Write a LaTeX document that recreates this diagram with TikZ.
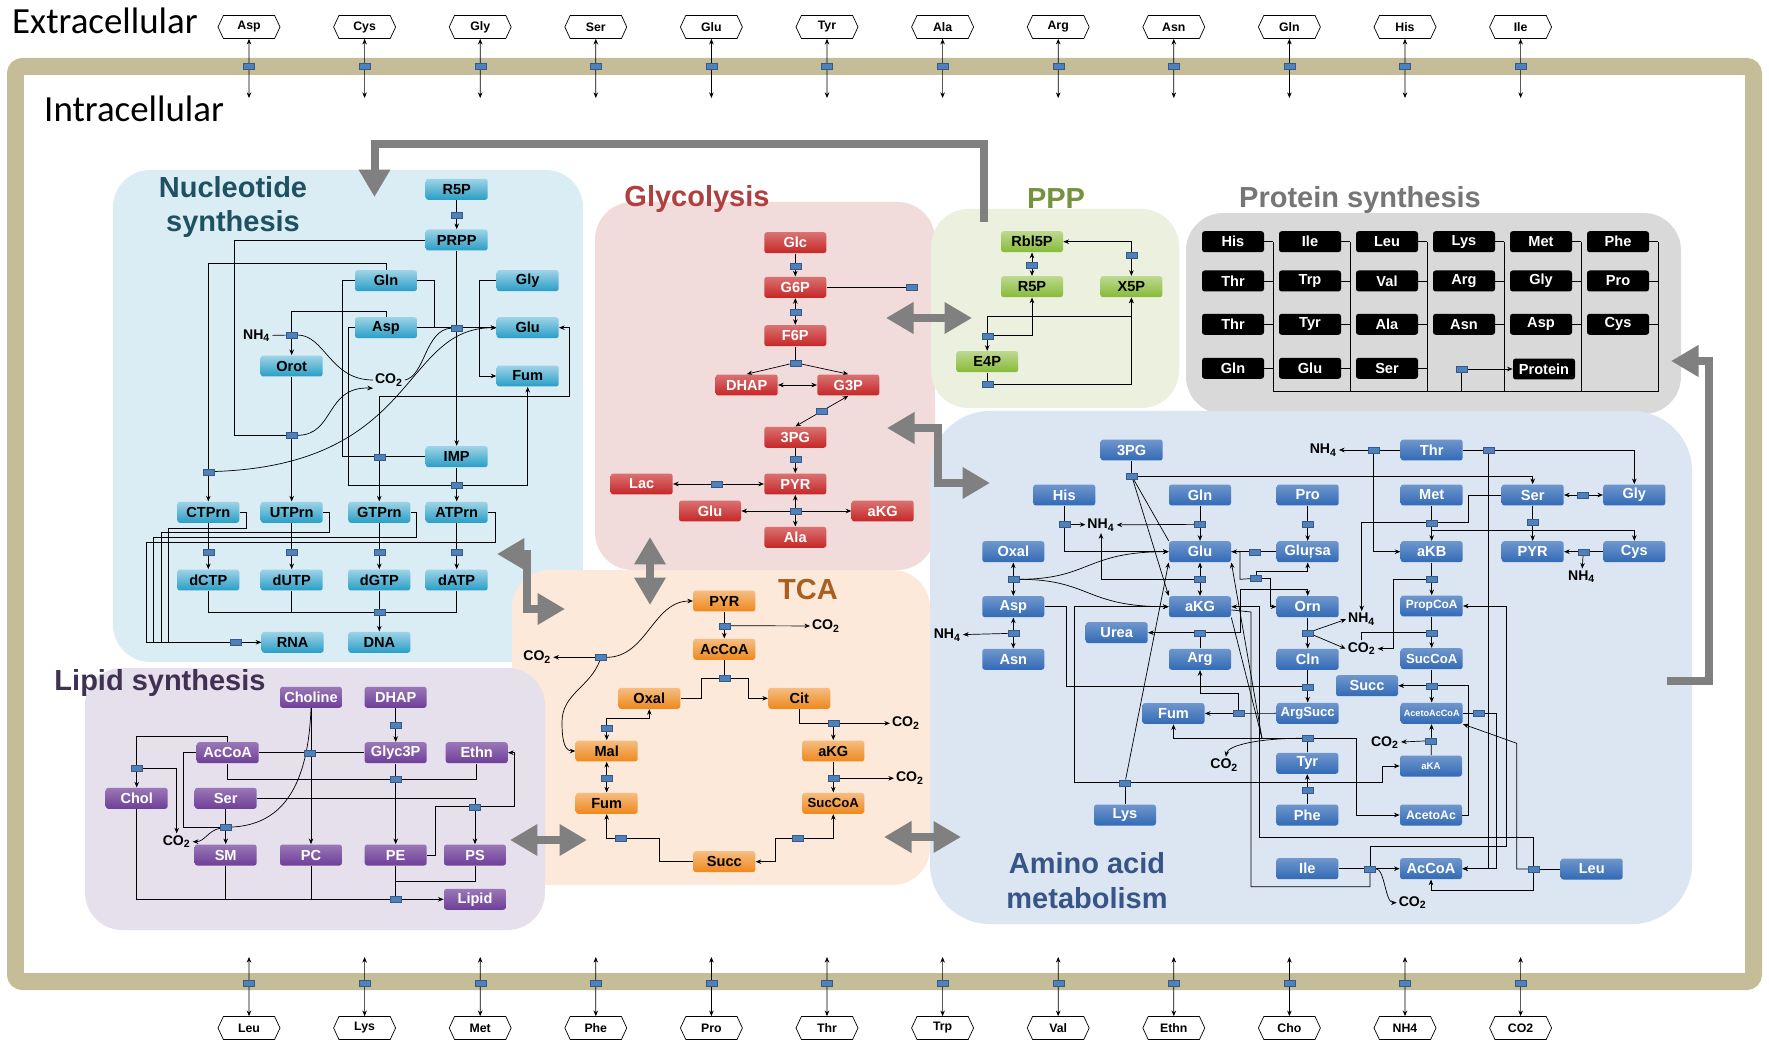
\documentclass[tikz,border=0pt]{standalone}
\usepackage{fontspec}
\setmainfont{Liberation Sans}
\newfontfamily\cellfont{Carlito}
\usepackage{tikz}
\usetikzlibrary{shapes.geometric, shapes.symbols, arrows.meta, positioning, calc}
\definecolor{framecol}{RGB}{197,189,151}
\definecolor{bigcol}{RGB}{128,128,128}
\definecolor{rxncol}{RGB}{79,129,189}
\definecolor{nucbg}{RGB}{218,236,244}
\definecolor{glybg}{RGB}{242,220,219}
\definecolor{pppbg}{RGB}{235,241,222}
\definecolor{protbg}{RGB}{217,217,217}
\definecolor{tcabg}{RGB}{253,233,217}
\definecolor{lipbg}{RGB}{229,224,236}
\definecolor{amibg}{RGB}{220,230,242}
\definecolor{nucbox}{RGB}{40,158,198}
\definecolor{glybox}{RGB}{198,38,38}
\definecolor{pppbox}{RGB}{135,186,55}
\definecolor{tcabox}{RGB}{238,136,28}
\definecolor{lipbox}{RGB}{110,62,152}
\definecolor{amibox}{RGB}{50,106,182}
\definecolor{nuctitle}{RGB}{31,81,97}
\definecolor{glytitle}{RGB}{176,64,64}
\definecolor{ppptitle}{RGB}{118,146,60}
\definecolor{prottitle}{RGB}{118,118,118}
\definecolor{tcatitle}{RGB}{170,95,30}
\definecolor{liptitle}{RGB}{64,49,82}
\definecolor{amititle}{RGB}{55,86,135}
\tikzstyle{box} = [rectangle, rounded corners=1.5pt, minimum width=1.24cm, minimum height=0.42cm, inner sep=0pt, font=\bfseries\fontsize{8.3}{9}\selectfont]
\tikzstyle{nuc} = [box, top color=nucbox!45!white, bottom color=nucbox, text=black]
\tikzstyle{gly} = [box, top color=glybox!65!white, bottom color=glybox, text=white]
\tikzstyle{pppb} = [box, top color=pppbox!55!white, bottom color=pppbox, text=black]
\tikzstyle{prot} = [box, fill=black, text=white]
\tikzstyle{tca} = [box, top color=tcabox!55!white, bottom color=tcabox, text=black]
\tikzstyle{lip} = [box, top color=lipbox!70!white, bottom color=lipbox, text=white]
\tikzstyle{ami} = [box, top color=amibox!70!white, bottom color=amibox, text=white]
\tikzstyle{rxn} = [rectangle, minimum width=0.22cm, minimum height=0.12cm, inner sep=0pt, fill=rxncol, draw=rxncol!70!black, line width=0.2pt]
\tikzstyle{chem} = [inner sep=1pt, font=\bfseries\fontsize{8}{9}\selectfont]
\tikzstyle{transp} = [signal, signal to=west and east, signal pointer angle=130, draw=black, line width=0.4pt, fill=white, minimum width=1.24cm, minimum height=0.46cm, inner sep=0pt, font=\bfseries\fontsize{7}{8}\selectfont]
\tikzstyle{region} = [rounded corners=0.75cm]
\tikzstyle{regtitle} = [font=\bfseries\fontsize{16.5}{19.8}\selectfont, align=center]
\tikzstyle{bigarrow} = [line width=0.16cm, draw=bigcol, line join=miter, -{Triangle[length=0.55cm,width=0.6cm]}]
\tikzstyle{bigboth} = [line width=0.16cm, draw=bigcol, line join=miter, {Triangle[length=0.55cm,width=0.6cm]}-{Triangle[length=0.55cm,width=0.6cm]}]
\tikzstyle{arrow} = [->]
\pgfdeclarelayer{bg}
\pgfdeclarelayer{edges}
\pgfsetlayers{bg,edges,main}

\begin{document}
\begin{tikzpicture}[x=0.02cm, y=-0.02cm, >={Stealth[length=3.2pt,width=2.6pt]}, line width=0.55pt]
    \useasboundingbox (0,0) rectangle (1769,1040);

    % Cell and compartments
    \begin{pgfonlayer}{bg}
        \fill[white] (0,0) rectangle (1769,1040);
        \draw[framecol, line width=0.34cm, rounded corners=4pt] (15.5,66.5) rectangle (1753.5,981.5);
        \fill[nucbg, region] (113,170) rectangle (583,662);
        \fill[tcabg, region] (512,570) rectangle (930,885);
        \fill[lipbg, region] (85,668) rectangle (545,930);
        \fill[glybg, region] (595,202) rectangle (935,570);
        \fill[pppbg, region] (931,209) rectangle (1179,408);
        \fill[protbg, region] (1186,213) rectangle (1681,414);
        \fill[amibg, rounded corners=1.2cm] (930,411) rectangle (1692,924);
    \end{pgfonlayer}

    \node[anchor=west, font=\cellfont\fontsize{21}{24}\selectfont] (extra) at (6,21) {Extracellular};
    \node[anchor=west, font=\cellfont\fontsize{21}{24}\selectfont] (intra) at (38,109) {Intracellular};

    % Transport
    \foreach \lab [count=\i from 0] in {Asp,Cys,Gly,Ser,Glu,Tyr,Ala,Arg,Asn,Gln,His,Ile} {
        \node[transp] (ex\i) at ({249+115.6*\i},27) {\lab};
        \node[rxn] (txs\i) at ({249+115.6*\i},66) {};
        \coordinate (in\i) at ({249+115.6*\i},98);
        \begin{pgfonlayer}{edges}
            \draw[<->] (ex\i) -- (in\i);
        \end{pgfonlayer}
    }
    \foreach \lab [count=\i from 0] in {Leu,Lys,Met,Phe,Pro,Thr,Trp,Val,Ethn,Cho,NH4,CO2} {
        \node[transp] (out\i) at ({249+115.6*\i},1028) {\lab};
        \node[rxn] (tos\i) at ({249+115.6*\i},983) {};
        \coordinate (inb\i) at ({249+115.6*\i},957);
        \begin{pgfonlayer}{edges}
            \draw[<->] (inb\i) -- (out\i);
        \end{pgfonlayer}
    }

    % Titles
    \node[regtitle, text=nuctitle] (tnuc) at (233,207) {Nucleotide\\synthesis};
    \node[regtitle, text=glytitle] (tgly) at (697,199) {Glycolysis};
    \node[regtitle, text=ppptitle] (tppp) at (1056,199) {PPP};
    \node[regtitle, text=prottitle] (tprot) at (1360,200) {Protein synthesis};
    \node[regtitle, text=tcatitle] (ttca) at (808,590) {TCA};
    \node[regtitle, text=liptitle] (tlip) at (160,683) {Lipid synthesis};
    \node[regtitle, text=amititle] (tami) at (1087,881) {Amino acid\\metabolism};

    % Nucleotide synthesis
    \node[nuc] (nr5p) at (456.7,189.3) {R5P};
    \node[nuc] (nprpp) at (456.7,240) {PRPP};
    \node[nuc] (ngln) at (386,280.7) {Gln};
    \node[nuc] (ngly) at (527.7,280.7) {Gly};
    \node[nuc] (nasp) at (386,327.7) {Asp};
    \node[nuc] (nglu) at (527.7,327.7) {Glu};
    \node[nuc] (norot) at (291.7,366) {Orot};
    \node[nuc] (nfum) at (527.7,376) {Fum};
    \node[nuc] (nimp) at (456.7,456.7) {IMP};
    \node[nuc] (nctp) at (208.3,512.3) {CTPrn};
    \node[nuc] (nutp) at (291.7,512.3) {UTPrn};
    \node[nuc] (ngtp) at (379.3,512.3) {GTPrn};
    \node[nuc] (natp) at (456.7,512.3) {ATPrn};
    \node[nuc] (ndctp) at (208.3,580) {dCTP};
    \node[nuc] (ndutp) at (291.7,580) {dUTP};
    \node[nuc] (ndgtp) at (379.3,580) {dGTP};
    \node[nuc] (ndatp) at (456.7,580) {dATP};
    \node[nuc] (nrna) at (292.7,642.3) {RNA};
    \node[nuc] (ndna) at (379.3,642.3) {DNA};
    \node[chem] (nnh4) at (256.7,335.7) {NH\textsubscript{4}};
    \node[chem] (nco2) at (389,380) {CO\textsubscript{2}};
    \node[rxn] (sr5p) at (456.7,215) {};
    \node[rxn] (spur) at (456.7,327.7) {};
    \node[rxn] (snh4) at (291.7,335) {};
    \node[rxn] (sump) at (291.7,435.3) {};
    \node[rxn] (sgmp) at (379.3,456.7) {};
    \node[rxn] (sctp) at (208.3,471.7) {};
    \node[rxn] (samp) at (456.7,485) {};
    \node[rxn] (sdc) at (208.3,552.3) {};
    \node[rxn] (sdu) at (291.7,552.3) {};
    \node[rxn] (sdg) at (379.3,552.3) {};
    \node[rxn] (sda) at (456.7,552.3) {};
    \node[rxn] (sdna) at (379.3,612.3) {};
    \node[rxn] (srna) at (236,642.3) {};

    % Glycolysis
    \node[gly] (gglc) at (795.3,242.7) {Glc};
    \node[gly] (gg6p) at (795.3,287.3) {G6P};
    \node[gly] (gf6p) at (795.3,335.7) {F6P};
    \node[gly] (gdhap) at (746.7,385) {DHAP};
    \node[gly] (gg3p) at (848.3,385) {G3P};
    \node[gly] (g3pg) at (795.3,437.3) {3PG};
    \node[gly] (glac) at (641.7,484) {Lac};
    \node[gly] (gpyr) at (795.3,484) {PYR};
    \node[gly] (gglu) at (710,511) {Glu};
    \node[gly] (gakg) at (882.7,511) {aKG};
    \node[gly] (gala) at (795.3,537.3) {Ala};
    \node[rxn] (sglc) at (795.3,266) {};
    \node[rxn] (sg6p) at (795.3,311.7) {};
    \node[rxn] (sf6p) at (795.3,362.7) {};
    \node[rxn] (sg3p) at ($(gg3p.south)!0.5!(g3pg.north)$) {};
    \node[rxn] (s3pg2) at (795.3,459.3) {};
    \node[rxn] (slac) at (716.7,484) {};
    \node[rxn] (spyr) at (795.3,511) {};
    \node[rxn] (sppp) at (911.7,287.3) {};

    % PPP
    \node[pppb] (prbl) at (1032,241.7) {Rbl5P};
    \node[pppb] (pr5p) at (1032,286.7) {R5P};
    \node[pppb] (px5p) at (1131.4,286.7) {X5P};
    \node[pppb] (pe4p) at (987.2,361.7) {E4P};
    \node[rxn] (srbl) at (1032,265) {};
    \node[rxn] (sx5p) at (1131.4,255) {};
    \node[rxn] (se4p) at (987.2,335.7) {};
    \node[rxn] (se4p2) at (987.2,384) {};

    % Protein synthesis
    \foreach \lab [count=\k from 0] in {His,Ile,Leu,Lys,Met,Phe,Thr,Trp,Val,Arg,Gly,Pro,Thr,Tyr,Ala,Asn,Asp,Cys,Gln,Glu,Ser} {
        \pgfmathtruncatemacro{\col}{mod(\k,6)}
        \pgfmathtruncatemacro{\row}{int(\k/6)}
        \pgfmathsetmacro{\px}{1233+77*\col}
        \pgfmathsetmacro{\py}{{241.7,281,324.3,368.3}[\row]}
        \node[prot] (pp\k) at (\px,\py) {\lab};
        \coordinate (pc\k) at ({\px+40},\py);
        \begin{pgfonlayer}{edges}
            \draw (pp\k) -- (pc\k);
        \end{pgfonlayer}
    }
    \node[prot] (pprot) at (1544,369) {Protein};
    \node[rxn] (sprot) at (1461.3,369) {};

    % TCA
    \node[tca] (tpyr) at (724.3,601) {PYR};
    \node[tca] (taccoa) at (724.3,649.3) {AcCoA};
    \node[tca] (toxal) at (649.3,698.3) {Oxal};
    \node[tca] (tcit) at (799.3,698.3) {Cit};
    \node[tca] (tmal) at (606.7,751) {Mal};
    \node[tca] (takg) at (833.3,751) {aKG};
    \node[tca] (tfum) at (606.7,803.3) {Fum};
    \node[tca, font=\bfseries\fontsize{7.5}{9}\selectfont] (tsuccoa) at (833.3,803.3) {SucCoA};
    \node[tca] (tsucc) at (724.3,861.7) {Succ};
    \node[chem] (tco2a) at (826,626) {CO\textsubscript{2}};
    \node[chem] (tco2b) at (537.3,657.3) {CO\textsubscript{2}};
    \node[chem] (tco2c) at (906,723.3) {CO\textsubscript{2}};
    \node[chem] (tco2d) at (910,778.3) {CO\textsubscript{2}};
    \node[rxn] (spdh) at (724.3,625.7) {};
    \node[rxn] (sme) at (601,657.3) {};
    \node[rxn] (scs) at (724.3,678.3) {};
    \node[rxn] (sidh) at (833.3,723.3) {};
    \node[rxn] (smdh) at (606.7,727.7) {};
    \node[rxn] (sfum) at (606.7,778.3) {};
    \node[rxn] (sakgdh) at (833.3,778.3) {};
    \node[rxn] (ssdh) at (620.7,838.3) {};
    \node[rxn] (sscs) at (797.7,838.3) {};

    % Lipid synthesis
    \node[lip] (lcholine) at (311,697.3) {Choline};
    \node[lip] (ldhap) at (395.7,697.3) {DHAP};
    \node[lip] (laccoa) at (227.7,752.7) {AcCoA};
    \node[lip] (lglyc) at (395.7,752.7) {Glyc3P};
    \node[lip] (lethn) at (476.7,752.7) {Ethn};
    \node[lip] (lchol) at (136.7,798.3) {Chol};
    \node[lip] (lser) at (225.7,798.3) {Ser};
    \node[lip] (lsm) at (225.7,855) {SM};
    \node[lip] (lpc) at (311,855) {PC};
    \node[lip] (lpe) at (395.7,855) {PE};
    \node[lip] (lps) at (475,855) {PS};
    \node[lip] (llipid) at (475,899.3) {Lipid};
    \node[chem] (lco2) at (176.7,841.7) {CO\textsubscript{2}};
    \node[rxn] (sdhap) at (395.7,725) {};
    \node[rxn] (spc) at (310,752.7) {};
    \node[rxn] (spe) at (395.7,779.3) {};
    \node[rxn] (schol) at (136.7,768.3) {};
    \node[rxn] (ssm) at (225.7,827.3) {};
    \node[rxn] (sps) at (475,806.7) {};
    \node[rxn] (slip) at (395.7,899.3) {};
    \coordinate (psj) at (395.7,881.7);

    % Amino acid metabolism
    \node[ami] (a3pg) at (1131.7,450) {3PG};
    \node[ami] (ahis) at (1064.3,495) {His};
    \node[ami] (agln) at (1200,495) {Gln};
    \node[ami] (apro) at (1307.7,495) {Pro};
    \node[ami] (athr) at (1431.7,450) {Thr};
    \node[ami] (amet) at (1431.7,495) {Met};
    \node[ami] (aser) at (1532.7,495) {Ser};
    \node[ami] (agly) at (1634.3,495) {Gly};
    \node[ami] (aoxal) at (1013.3,551.7) {Oxal};
    \node[ami] (aglu) at (1200,551.7) {Glu};
    \node[ami] (aglursa) at (1307.7,551.7) {Gluŗsa};
    \node[ami] (akb) at (1431.7,551.7) {aKB};
    \node[ami] (apyr) at (1532.7,551.7) {PYR};
    \node[ami] (acys) at (1634.3,551.7) {Cys};
    \node[ami] (aasp) at (1013.3,606.7) {Asp};
    \node[ami] (aakg) at (1200,606.7) {aKG};
    \node[ami] (aorn) at (1307.7,606.7) {Orn};
    \node[ami, font=\bfseries\fontsize{6.8}{8}\selectfont] (apropcoa) at (1431.7,606) {PropCoA};
    \node[ami] (aurea) at (1116.7,632.7) {Urea};
    \node[ami] (aasn) at (1013.3,659.3) {Asn};
    \node[ami] (aarg) at (1200,659.3) {Arg};
    \node[ami] (acln) at (1307.7,659.3) {Cln};
    \node[ami, font=\bfseries\fontsize{7.5}{9}\selectfont] (asuccoa) at (1431.7,658.7) {SucCoA};
    \node[ami] (asucc) at (1367,685.7) {Succ};
    \node[ami] (afum) at (1173.5,713.5) {Fum};
    \node[ami, font=\bfseries\fontsize{7.5}{9}\selectfont] (aargsucc) at (1307.7,713.3) {ArgSucc};
    \node[ami, font=\bfseries\fontsize{5.2}{6}\selectfont] (aacaccoa) at (1431.7,713.3) {AcetoAcCoA};
    \node[ami] (atyr) at (1307.3,763.3) {Tyr};
    \node[ami, font=\bfseries\fontsize{5.5}{6}\selectfont] (aaka) at (1431,766) {aKA};
    \node[ami] (alys) at (1125,815) {Lys};
    \node[ami] (aphe) at (1307.3,815) {Phe};
    \node[ami, font=\bfseries\fontsize{7}{8}\selectfont] (aacac) at (1431,815) {AcetoAc};
    \node[ami] (aile) at (1307.3,868.7) {Ile};
    \node[ami] (aaccoa) at (1431,868.7) {AcCoA};
    \node[ami] (aleu) at (1591.7,869) {Leu};
    \node[chem] (nh4a) at (1101,525) {NH\textsubscript{4}};
    \node[chem] (nh4b) at (1323.3,450) {NH\textsubscript{4}};
    \node[chem] (nh4c) at (947.3,635) {NH\textsubscript{4}};
    \node[chem] (nh4d) at (1361.7,619.3) {NH\textsubscript{4}};
    \node[chem] (nh4e) at (1581.7,576.7) {NH\textsubscript{4}};
    \node[chem] (co2a) at (1361.7,648.7) {CO\textsubscript{2}};
    \node[chem] (co2b) at (1385,742.7) {CO\textsubscript{2}};
    \node[chem] (co2c) at (1224.3,765) {CO\textsubscript{2}};
    \node[chem] (co2d) at (1412.7,902.7) {CO\textsubscript{2}};
    \node[rxn] (s3pg) at (1131.7,476) {};
    \node[rxn] (shis) at (1064.3,524.3) {};
    \node[rxn] (sgln) at (1200,524.3) {};
    \node[rxn] (spro) at (1307.7,524.3) {};
    \node[rxn] (sglursa) at (1255,551.7) {};
    \node[rxn] (sglu) at (1200,579.3) {};
    \node[rxn] (soxal) at (1013.3,579.3) {};
    \node[rxn] (sasn) at (1013.3,633.3) {};
    \node[rxn] (sorn5) at (1256,578.3) {};
    \node[rxn] (surea) at (1200,632.7) {};
    \node[rxn] (sorn) at (1307.7,632.7) {};
    \node[rxn] (scln) at (1307.7,686.7) {};
    \node[rxn] (sargsucc) at (1238.3,713.3) {};
    \node[rxn] (sthr1) at (1373.3,450) {};
    \node[rxn] (sthr2) at (1488.3,450) {};
    \node[rxn] (sser) at (1582.7,495) {};
    \node[rxn] (sserpyr) at (1532.7,521.7) {};
    \node[rxn] (smet) at (1431.7,522.7) {};
    \node[rxn] (scys) at (1583.3,551.7) {};
    \node[rxn] (sakb) at (1431.7,579.3) {};
    \node[rxn] (spropcoa) at (1431.7,632.7) {};
    \node[rxn] (ssuccoa) at (1431.7,685.7) {};
    \node[rxn] (sacac) at (1478.3,713.3) {};
    \node[rxn] (saka) at (1431,740.7) {};
    \node[rxn] (styr) at (1307.3,738.3) {};
    \node[rxn] (sphe) at (1307.3,790) {};
    \node[rxn] (slys) at (1125,782.7) {};
    \node[rxn] (sile) at (1370,868.7) {};
    \node[rxn] (sleu) at (1533.5,869) {};
    \coordinate (tyrj) at (1262,738.3);

    % Big arrows between compartments
    \coordinate (pppout) at (984,222);
    \coordinate (nucin) at (374.5,197);
    \coordinate (gpA) at (886,318);
    \coordinate (gpB) at (972,318);
    \coordinate (gaA) at (887,428);
    \coordinate (gaB) at (990,483);
    \coordinate (gtA) at (650,537);
    \coordinate (gtB) at (650,605);
    \coordinate (ntA) at (497,554);
    \coordinate (ntB) at (565,609);
    \coordinate (ltA) at (510,840);
    \coordinate (ltB) at (587,840);
    \coordinate (taA) at (884,837);
    \coordinate (taB) at (961,837);
    \coordinate (apA) at (1667,681);
    \coordinate (apB) at (1671,361);

    \begin{pgfonlayer}{edges}
        \draw[bigarrow] (pppout) |- (374.5,144) -- (nucin);
        \draw[bigboth] (gpA) -- (gpB);
        \draw[bigboth] (gaA) -| (938,483) -- (gaB);
        \draw[bigboth] (gtA) -- (gtB);
        \draw[bigboth] (ntA) -| (527,609) -- (ntB);
        \draw[bigboth] (ltA) -- (ltB);
        \draw[bigboth] (taA) -- (taB);
        \draw[bigarrow] (apA) -| (1709,361) -- (apB);

        % Nucleotide reactions
        \draw[arrow] (nr5p) -- (nprpp);
        \draw[arrow] (nprpp) -- (nimp);
        \draw (ngln) -| (434.3,327.7) -- (spur);
        \draw (nasp) -- (spur);
        \draw[arrow] (spur) -- (nglu);
        \draw (nco2.east) .. controls (425,376) and (425,330) .. (spur);
        \draw[arrow] (ngly) -| (479.3,376) -- (nfum);
        \draw[arrow] (nasp.north) |- (291.7,311) -- (norot);
        \draw (nnh4) -- (snh4);
        \draw (snh4) .. controls (325,335) and (330,380) .. (nco2.west);
        \draw (nprpp) -| (234,435.3) -- (sump);
        \draw[arrow] (norot) -- (nutp);
        \draw[arrow] (sump) .. controls (335,435.3) and (325,386) .. (nco2.south west);
        \draw[arrow] (ngln.north) |- (208.3,263.3) -- (nctp);
        \draw[arrow] (sctp) .. controls (420,465) and (400,327.7) .. (nglu.west);
        \draw (ngln) -| (342.7,456.7) -- (sgmp);
        \draw (nimp) -- (sgmp);
        \draw[arrow] (sgmp) -- (ngtp);
        \draw[arrow] (sgmp) |- (569.3,396) |- (nglu.east);
        \draw[arrow] (nimp) -- (natp);
        \draw (nasp) -| (348.3,485) -- (samp);
        \draw[arrow] (samp) -| (nfum);
        \draw[arrow] (nctp) -- (ndctp);
        \draw[arrow] (nutp) -- (ndutp);
        \draw[arrow] (ngtp) -- (ndgtp);
        \draw[arrow] (natp) -- (ndatp);
        \draw (nctp.east) -| (246,528.3) -| (168.3,642.3) -- (srna);
        \draw (nutp.east) -| (329.3,532.7) -| (161.7,642.3) -- (srna);
        \draw (ngtp.east) -| (416,537.7) -| (153.3,642.3) -- (srna);
        \draw (natp.east) -| (495,542.7) -| (146,642.3) -- (srna);
        \draw[arrow] (srna) -- (nrna);
        \draw (ndctp) |- (sdna);
        \draw (ndutp) |- (sdna);
        \draw (ndatp) |- (sdna);
        \draw[arrow] (ndgtp) -- (ndna);

        % Glycolysis reactions
        \draw[arrow] (gglc) -- (gg6p);
        \draw[arrow, <->] (gg6p) -- (gf6p);
        \draw (gf6p) -- (sf6p);
        \draw[arrow] (sf6p) -- (gdhap.north);
        \draw[arrow] (sf6p) -- (gg3p.north);
        \draw[arrow, <->] (gdhap) -- (gg3p);
        \draw[arrow, <->] (gg3p.south) -- (g3pg.north);
        \draw[arrow] (g3pg) -- (gpyr);
        \draw[arrow, <->] (glac) -- (gpyr);
        \draw[arrow] (spyr) -- (gpyr);
        \draw[arrow] (spyr) -- (gala);
        \draw[arrow] (spyr) -- (gglu);
        \draw[arrow] (spyr) -- (gakg);
        \draw (gg6p) -- (sppp);

        % PPP reactions
        \draw[arrow, <->] (prbl) -- (pr5p);
        \draw[arrow, <->] (prbl) -| (px5p);
        \draw[arrow] (se4p) -| (pr5p);
        \draw[arrow] (se4p) |- (1131.4,316.7) -- (px5p);
        \draw[arrow] (se4p) -- (pe4p);
        \draw (pe4p) -- (se4p2);
        \draw[arrow] (se4p2) -| (px5p);

        % Protein synthesis
        \foreach \c in {0,...,5} {
            \coordinate (ctop\c) at ({1273+77*\c},241.7);
            \coordinate (cbot\c) at ({1273+77*\c},391.7);
            \draw (ctop\c) -- (cbot\c);
        }
        \draw (cbot0) -- (cbot5);
        \draw (sprot) |- (cbot3);
        \draw[arrow] (sprot) -- (pprot);

        % TCA reactions
        \draw[arrow] (tpyr) -- (taccoa);
        \draw[arrow] (spdh) -- (tco2a);
        \draw (taccoa) -- (scs);
        \draw (scs) -| (701,698.3) -- (toxal);
        \draw[arrow] (scs) -| (748.3,698.3) -- (tcit);
        \draw (tcit) |- (sidh);
        \draw[arrow] (sidh) -- (takg);
        \draw[arrow] (sidh) -- (tco2c);
        \draw[arrow] (takg) -- (tsuccoa);
        \draw[arrow] (sakgdh) -- (tco2d);
        \draw[arrow] (sscs) -| (tsuccoa);
        \draw[arrow] (sscs) -| (775,861.7) -- (tsucc);
        \draw (tsucc) -| (659.3,838.3) -- (ssdh);
        \draw[arrow] (ssdh) -| (tfum);
        \draw[arrow, <->] (tfum) -- (tmal);
        \draw[arrow] (smdh) -- (tmal);
        \draw[arrow] (smdh) |- (649.3,718.3) -- (toxal);
        \draw[arrow] (sme) to[out=-110,in=90] (562,722) to[out=-90,in=180] (tmal.west);
        \draw[arrow] (sme) to[out=0,in=180] (tpyr.west);
        \draw[arrow] (sme) -- (tco2b);

        % Lipid reactions
        \draw[arrow] (ldhap) -- (lglyc);
        \draw (laccoa) -- (lglyc);
        \draw[arrow] (lcholine) -- (lpc);
        \draw (laccoa.south) |- (spe);
        \draw (lethn.south) |- (spe);
        \draw[arrow] (lglyc) -- (lpe);
        \draw[arrow] (laccoa.north) |- (136.7,736) -- (lchol);
        \draw[arrow] (schol) -| (lco2);
        \draw (laccoa) -| (183.3,827.3) -- (ssm);
        \draw[arrow] (lser) -- (lsm);
        \draw (lcholine.south) .. controls (308,790) and (280,825) .. (ssm);
        \draw[arrow] (ssm) to[out=190,in=0] (lco2.east);
        \draw[arrow] (lser) -| (lps);
        \draw (lpe) -| (435,806.7) -- (sps);
        \draw[arrow] (sps) -| (514.3,752.7) -- (lethn);
        \draw (lchol) |- (slip);
        \draw (lsm) |- (slip);
        \draw (lpc) |- (slip);
        \draw (lpe) -- (slip);
        \draw (lps) |- (psj);
        \draw[arrow] (slip) -- (llipid);

        % Amino acid reactions
        \draw (a3pg) -- (s3pg);
        \draw[arrow] (s3pg) -| (aser);
        \draw[arrow] (s3pg) -- (aakg.north west);
        \draw (aglu.north west) -- (s3pg);
        \draw (ahis) -- (shis);
        \draw[arrow] (shis) -- (nh4a);
        \draw[arrow] (shis) |- (aglu);
        \draw (agln) -- (sgln);
        \draw[arrow] (sgln) -- (aglu);
        \draw[arrow] (sgln) -- (nh4a);
        \draw (apro) -- (spro);
        \draw[arrow] (spro) -- (aglursa);
        \draw (aglursa) -- (sglursa);
        \draw[arrow] (sglursa) -- (aglu);
        \draw[arrow, <->] (aglu) -- (aakg);
        \draw[arrow] (sglu) -| (nh4a);
        \draw[arrow, <->] (aoxal) -- (aasp);
        \draw[arrow] (soxal) .. controls (1090,579.3) and (1085,551.7) .. (aglu.west);
        \draw[arrow] (soxal) .. controls (1090,579.3) and (1085,606.7) .. (aakg.west);
        \draw[arrow, <->] (aasp) -- (aasn);
        \draw[arrow] (sasn) -- (nh4c);
        \draw (aasp) -| (1066.7,686.7) -- (scln);
        \draw (sorn5) -- (1240,579.3) |- (aglu.east);
        \draw[arrow] (sorn5) |- (1307.7,571.7) -- (aglursa);
        \draw[arrow] (sorn5) -| (1270,606.7) -- (aorn);
        \draw (aarg) -- (surea);
        \draw[arrow] (surea) -- (aurea);
        \draw[arrow] (surea) -| (1240,589.3) -| (aorn);
        \draw (aorn) -- (sorn);
        \draw[arrow] (sorn) -- (acln);
        \draw[arrow] (sorn) -- (nh4d.west);
        \draw[arrow] (sorn) -- (co2a.west);
        \draw[arrow] (acln) -- (aargsucc);
        \draw[arrow] (aargsucc) -- (afum);
        \draw[arrow] (sargsucc) -- (1238.3,693.3) -| (aarg);
        \draw (athr) -- (sthr1);
        \draw[arrow] (sthr1) -- (nh4b);
        \draw[arrow] (sthr1) |- (akb);
        \draw (athr) -- (sthr2);
        \draw[arrow] (sthr2) -| (agly);
        \draw[arrow] (sthr2) |- (aaccoa);
        \draw[arrow, <->] (aser) -- (agly);
        \draw[arrow] (aser) -- (apyr);
        \draw[arrow] (amet) -- (akb);
        \draw (aser) -| (1468.3,522.7) -- (smet);
        \draw[arrow] (smet) -| (nh4d);
        \draw[arrow] (smet) -- (1431.7,530) -| (acys);
        \draw[arrow] (acys) -- (apyr);
        \draw[arrow] (scys) -- (nh4e);
        \draw[arrow] (akb) -- (apropcoa);
        \draw[arrow] (sakb) -| (1393.3,648.7) -- (co2a);
        \draw[arrow] (apropcoa) -- (asuccoa);
        \draw (spropcoa) -| (co2a);
        \draw[arrow] (asuccoa) -- (aacaccoa);
        \draw[arrow] (ssuccoa) -- (asucc);
        \draw (ssuccoa) -| (1468.3,815) -- (aacac);
        \draw (aacaccoa) -- (sacac);
        \draw[arrow] (sacac) -| (1496.7,868.7) -- (aaccoa);
        \draw[arrow] (aaka) -- (aacaccoa);
        \draw[arrow] (saka) -- (co2b);
        \draw[arrow] (aphe) -- (atyr);
        \draw (atyr) -- (styr);
        \draw[arrow] (styr) -| (afum);
        \draw[arrow] (styr) .. controls (1260,738.3) and (1228,745) .. (co2c);
        \draw[arrow] (styr) -| (1356,815) -- (aacac);
        \draw (styr) -- (tyrj);
        \draw[arrow] (tyrj) -- (aglu.south east);
        \draw (tyrj) -- (aakg.south east);
        \draw (alys) -- (slys);
        \draw[arrow] (slys) -- (aglu.south west);
        \draw[arrow] (slys) -| (1382.7,766) -- (aaka);
        \draw[arrow] (slys) -| (1074.3,606.7) -- (aakg);
        \draw[arrow] (aile) -- (aaccoa);
        \draw[arrow] (sile) .. controls (1385,868.7) and (1385,902.7) .. (co2d);
        \draw[arrow] (sile) -- (1370,846.7) -| (1506.7,606) -- (apropcoa);
        \draw (sile) -- (1370,886.7) -| (1251,612) -- (aakg);
        \draw (aleu) -- (sleu);
        \draw[arrow] (sleu) |- (1259,837.7) |- (aakg);
        \draw[arrow] (sleu) -| (1516.7,743.3) -- (aacaccoa.south east);
        \draw[arrow] (sleu) -- (1533.5,890) -| (aaccoa);
    \end{pgfonlayer}
\end{tikzpicture}
\end{document}
